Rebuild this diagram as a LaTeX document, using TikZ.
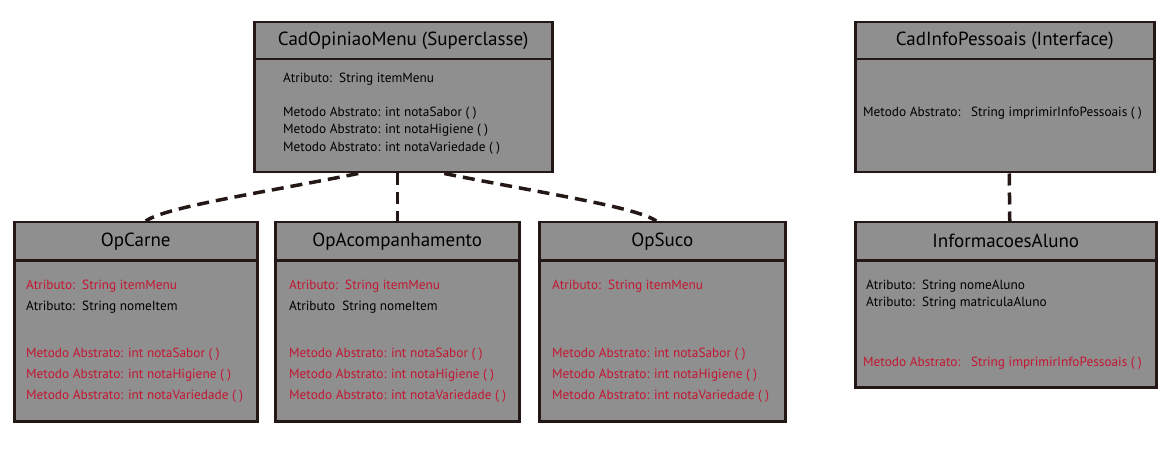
\documentclass[tikz,border=0pt]{standalone}
\usepackage{fontspec}
\setmainfont{PT Sans}
\definecolor{boxgray}{RGB}{143,143,143}
\definecolor{boxline}{RGB}{35,24,21}
\definecolor{txtred}{RGB}{196,22,50}

\begin{document}
\begin{tikzpicture}[x=1pt, y=-1pt,
	head/.style={draw=boxline, fill=boxgray, line width=2.5pt, inner sep=0pt, anchor=north west, minimum height=37pt, font=\fontsize{19}{22}\selectfont},
	body/.style={draw=boxline, fill=boxgray, line width=2.5pt, inner sep=0pt, anchor=north west},
	attr/.style={anchor=west, inner sep=0pt, font=\fontsize{13.3}{15}\selectfont},
	abst/.style={attr, text=txtred},
	link/.style={draw=boxline, line width=3.5pt, dash pattern=on 12pt off 7pt}]
	\fill [white] (0,0) rectangle (1174,454);
	\useasboundingbox (0,0) rectangle (1174,454);
	
	% superclasse
	\node [body, minimum width=298pt, minimum height=113pt] (supB) at (253,58) {};
	\node [head, minimum width=298pt] (supT) at (253,21) {CadOpiniaoMenu (Superclasse)};
	\node [attr] (supA) at (283,79) {Atributo:\ \ String itemMenu};
	\node [attr] (supM1) at (283,113) {Metodo Abstrato: int notaSabor ( )};
	\node [attr] (supM2) at (283,130) {Metodo Abstrato: int notaHigiene ( )};
	\node [attr] (supM3) at (283,148) {Metodo Abstrato: int notaVariedade ( )};
	
	% interface
	\node [body, minimum width=299pt, minimum height=113pt] (infoB) at (854,58) {};
	\node [head, minimum width=299pt] (infoT) at (854,21) {CadInfoPessoais (Interface)};
	\node [attr] (infoM) at (863,113) {Metodo Abstrato:\ \ \ String imprimirInfoPessoais ( )};
	
	% subclasses
	\node [body, minimum width=243pt, minimum height=161pt] (carneB) at (13,259) {};
	\node [head, minimum width=243pt, minimum height=38pt] (carneT) at (13,221) {OpCarne};
	\node [body, minimum width=244pt, minimum height=161pt] (acompB) at (274,259) {};
	\node [head, minimum width=244pt, minimum height=38pt] (acompT) at (274,221) {OpAcompanhamento};
	\node [body, minimum width=246pt, minimum height=161pt] (sucoB) at (538,259) {};
	\node [head, minimum width=246pt, minimum height=38pt] (sucoT) at (538,221) {OpSuco};
	
	\node [abst] (carneA1) at (26,286) {Atributo:\ \ String itemMenu};
	\node [attr] (carneA2) at (26,307) {Atributo:\ \ String nomeItem};
	\node [abst] (acompA1) at (289,286) {Atributo:\ \ String itemMenu};
	\node [attr] (acompA2) at (289,307) {Atributo\ \ String nomeItem};
	\node [abst] (sucoA1) at (552,286) {Atributo:\ \ String itemMenu};
	\foreach \b/\x in {carne/26, acomp/289, suco/552} {
		\node [abst] (\b M1) at (\x,354) {Metodo Abstrato: int notaSabor ( )};
		\node [abst] (\b M2) at (\x,375) {Metodo Abstrato: int notaHigiene ( )};
		\node [abst] (\b M3) at (\x,396) {Metodo Abstrato: int notaVariedade ( )};
	}
	
	% implementacao
	\node [body, minimum width=301pt, minimum height=127pt] (alunoB) at (854,259) {};
	\node [head, minimum width=301pt, minimum height=38pt] (alunoT) at (854,221) {InformacoesAluno};
	\node [attr] (alunoA1) at (866,286) {Atributo:\ \ String nomeAluno};
	\node [attr] (alunoA2) at (866,303) {Atributo:\ \ String matriculaAluno};
	\node [abst] (alunoM) at (863,363) {Metodo Abstrato:\ \ \ String imprimirInfoPessoais ( )};
	
	\draw [link] ([xshift=-45pt]supB.south) .. controls +(-100,20) and +(20,-14) .. ([xshift=10pt]carneT.north);
	\draw [link] ([xshift=-6pt]supB.south) -- (acompT.north);
	\draw [link] ([xshift=41pt]supB.south) .. controls +(100,20) and +(-20,-14) .. ([xshift=-6pt]sucoT.north);
	\draw [link] ([xshift=4.5pt]infoB.south) -- ([xshift=4pt]alunoT.north);
\end{tikzpicture}
\end{document}
